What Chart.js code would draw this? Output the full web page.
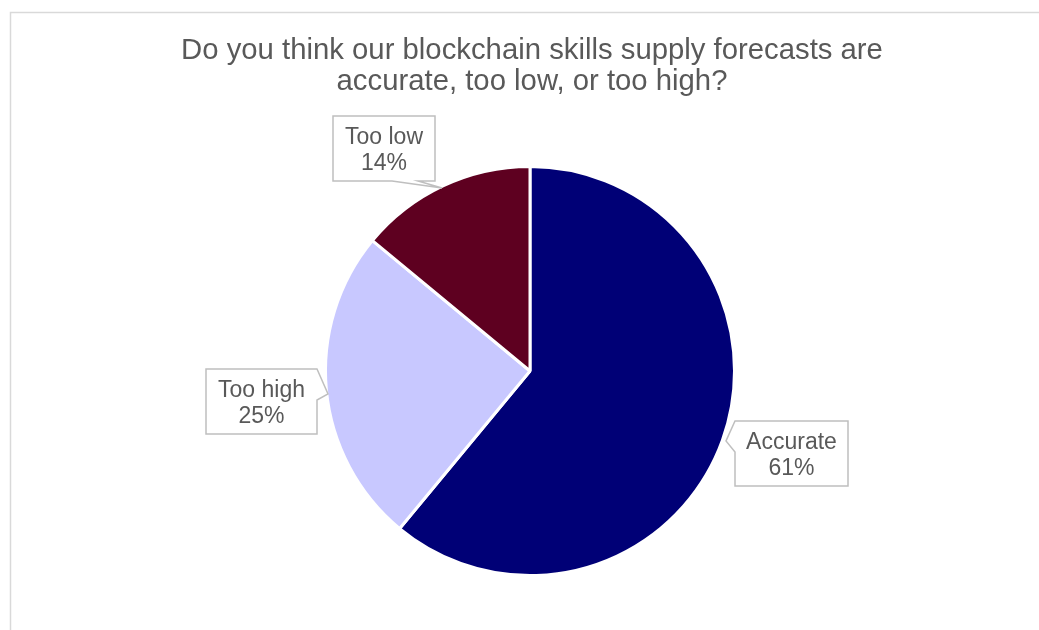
<!DOCTYPE html>
<html>
<head>
<meta charset="utf-8">
<script src="https://cdn.jsdelivr.net/npm/chart.js@4.4.1/dist/chart.umd.min.js"></script>
<style>
  html, body { margin: 0; padding: 0; background: #ffffff; }
  #wrap { width: 1039px; height: 630px; position: relative; }
</style>
</head>
<body>
<div id="wrap"><canvas id="c" width="1039" height="630"></canvas></div>
<script>
// Survey answers and their shares (percent)
const categories = ['Accurate', 'Too high', 'Too low'];
const shares = [61, 25, 14];
const sliceColors = ['#000076', '#c8c8ff', '#5e0020'];
const titleLines = ['Do you think our blockchain skills supply forecasts are', 'accurate, too low, or too high?'];

const FONT = '"Liberation Sans", Arial, sans-serif';
const TEXT_COLOR = '#595959';

// Callout shapes: text box plus pointer, as a closed outline
const callouts = [
  { box: [735, 421, 113, 65],
    outline: [[735, 421], [848, 421], [848, 486], [735, 486], [735, 452], [726, 441]] },
  { box: [206, 369, 111, 65],
    outline: [[206, 369], [317, 369], [328, 394], [317, 400], [317, 434], [206, 434]] },
  { box: [333, 116, 102, 65],
    outline: [[333, 116], [435, 116], [435, 181], [418, 181], [442, 188], [392, 181], [333, 181]] }
];

const framePlugin = {
  id: 'frame',
  beforeDraw(chart) {
    const ctx = chart.ctx;
    ctx.save();
    ctx.strokeStyle = '#d9d9d9';
    ctx.lineWidth = 1.5;
    ctx.beginPath();
    ctx.moveTo(10.5, 630);
    ctx.lineTo(10.5, 12.5);
    ctx.lineTo(1039, 12.5);
    ctx.stroke();
    ctx.restore();
  }
};

const titlePlugin = {
  id: 'chartTitle',
  afterDraw(chart) {
    const ctx = chart.ctx;
    ctx.save();
    ctx.fillStyle = TEXT_COLOR;
    ctx.font = '29.3px ' + FONT;
    ctx.textAlign = 'center';
    ctx.textBaseline = 'middle';
    titleLines.forEach((t, i) => ctx.fillText(t, 532, 51 + i * 31));
    ctx.restore();
  }
};

const calloutPlugin = {
  id: 'callouts',
  afterDatasetsDraw(chart) {
    const ctx = chart.ctx;
    const data = chart.data.datasets[0].data;
    ctx.save();
    callouts.forEach((c, i) => {
      const [x, y, w, h] = c.box;
      const pts = c.outline;
      ctx.beginPath();
      ctx.moveTo(pts[0][0], pts[0][1]);
      for (let k = 1; k < pts.length; k++) ctx.lineTo(pts[k][0], pts[k][1]);
      ctx.closePath();
      ctx.fillStyle = '#ffffff';
      ctx.fill();
      ctx.strokeStyle = '#bfbfbf';
      ctx.lineWidth = 1.5;
      ctx.stroke();
      ctx.fillStyle = TEXT_COLOR;
      ctx.font = '23px ' + FONT;
      ctx.textAlign = 'center';
      ctx.textBaseline = 'middle';
      ctx.fillText(chart.data.labels[i], x + w / 2, y + h / 2 - 11);
      ctx.fillText(data[i] + '%', x + w / 2, y + h / 2 + 15.5);
    });
    ctx.restore();
  }
};

new Chart(document.getElementById('c'), {
  type: 'pie',
  data: {
    labels: categories,
    datasets: [{
      data: shares,
      backgroundColor: sliceColors,
      borderColor: '#ffffff',
      borderWidth: 3
    }]
  },
  options: {
    responsive: false,
    animation: false,
    layout: { padding: { top: 165, bottom: 53, left: 324, right: 303 } },
    plugins: {
      legend: { display: false },
      title: { display: false },
      tooltip: { enabled: false }
    }
  },
  plugins: [framePlugin, calloutPlugin, titlePlugin]
});
</script>
</body>
</html>
